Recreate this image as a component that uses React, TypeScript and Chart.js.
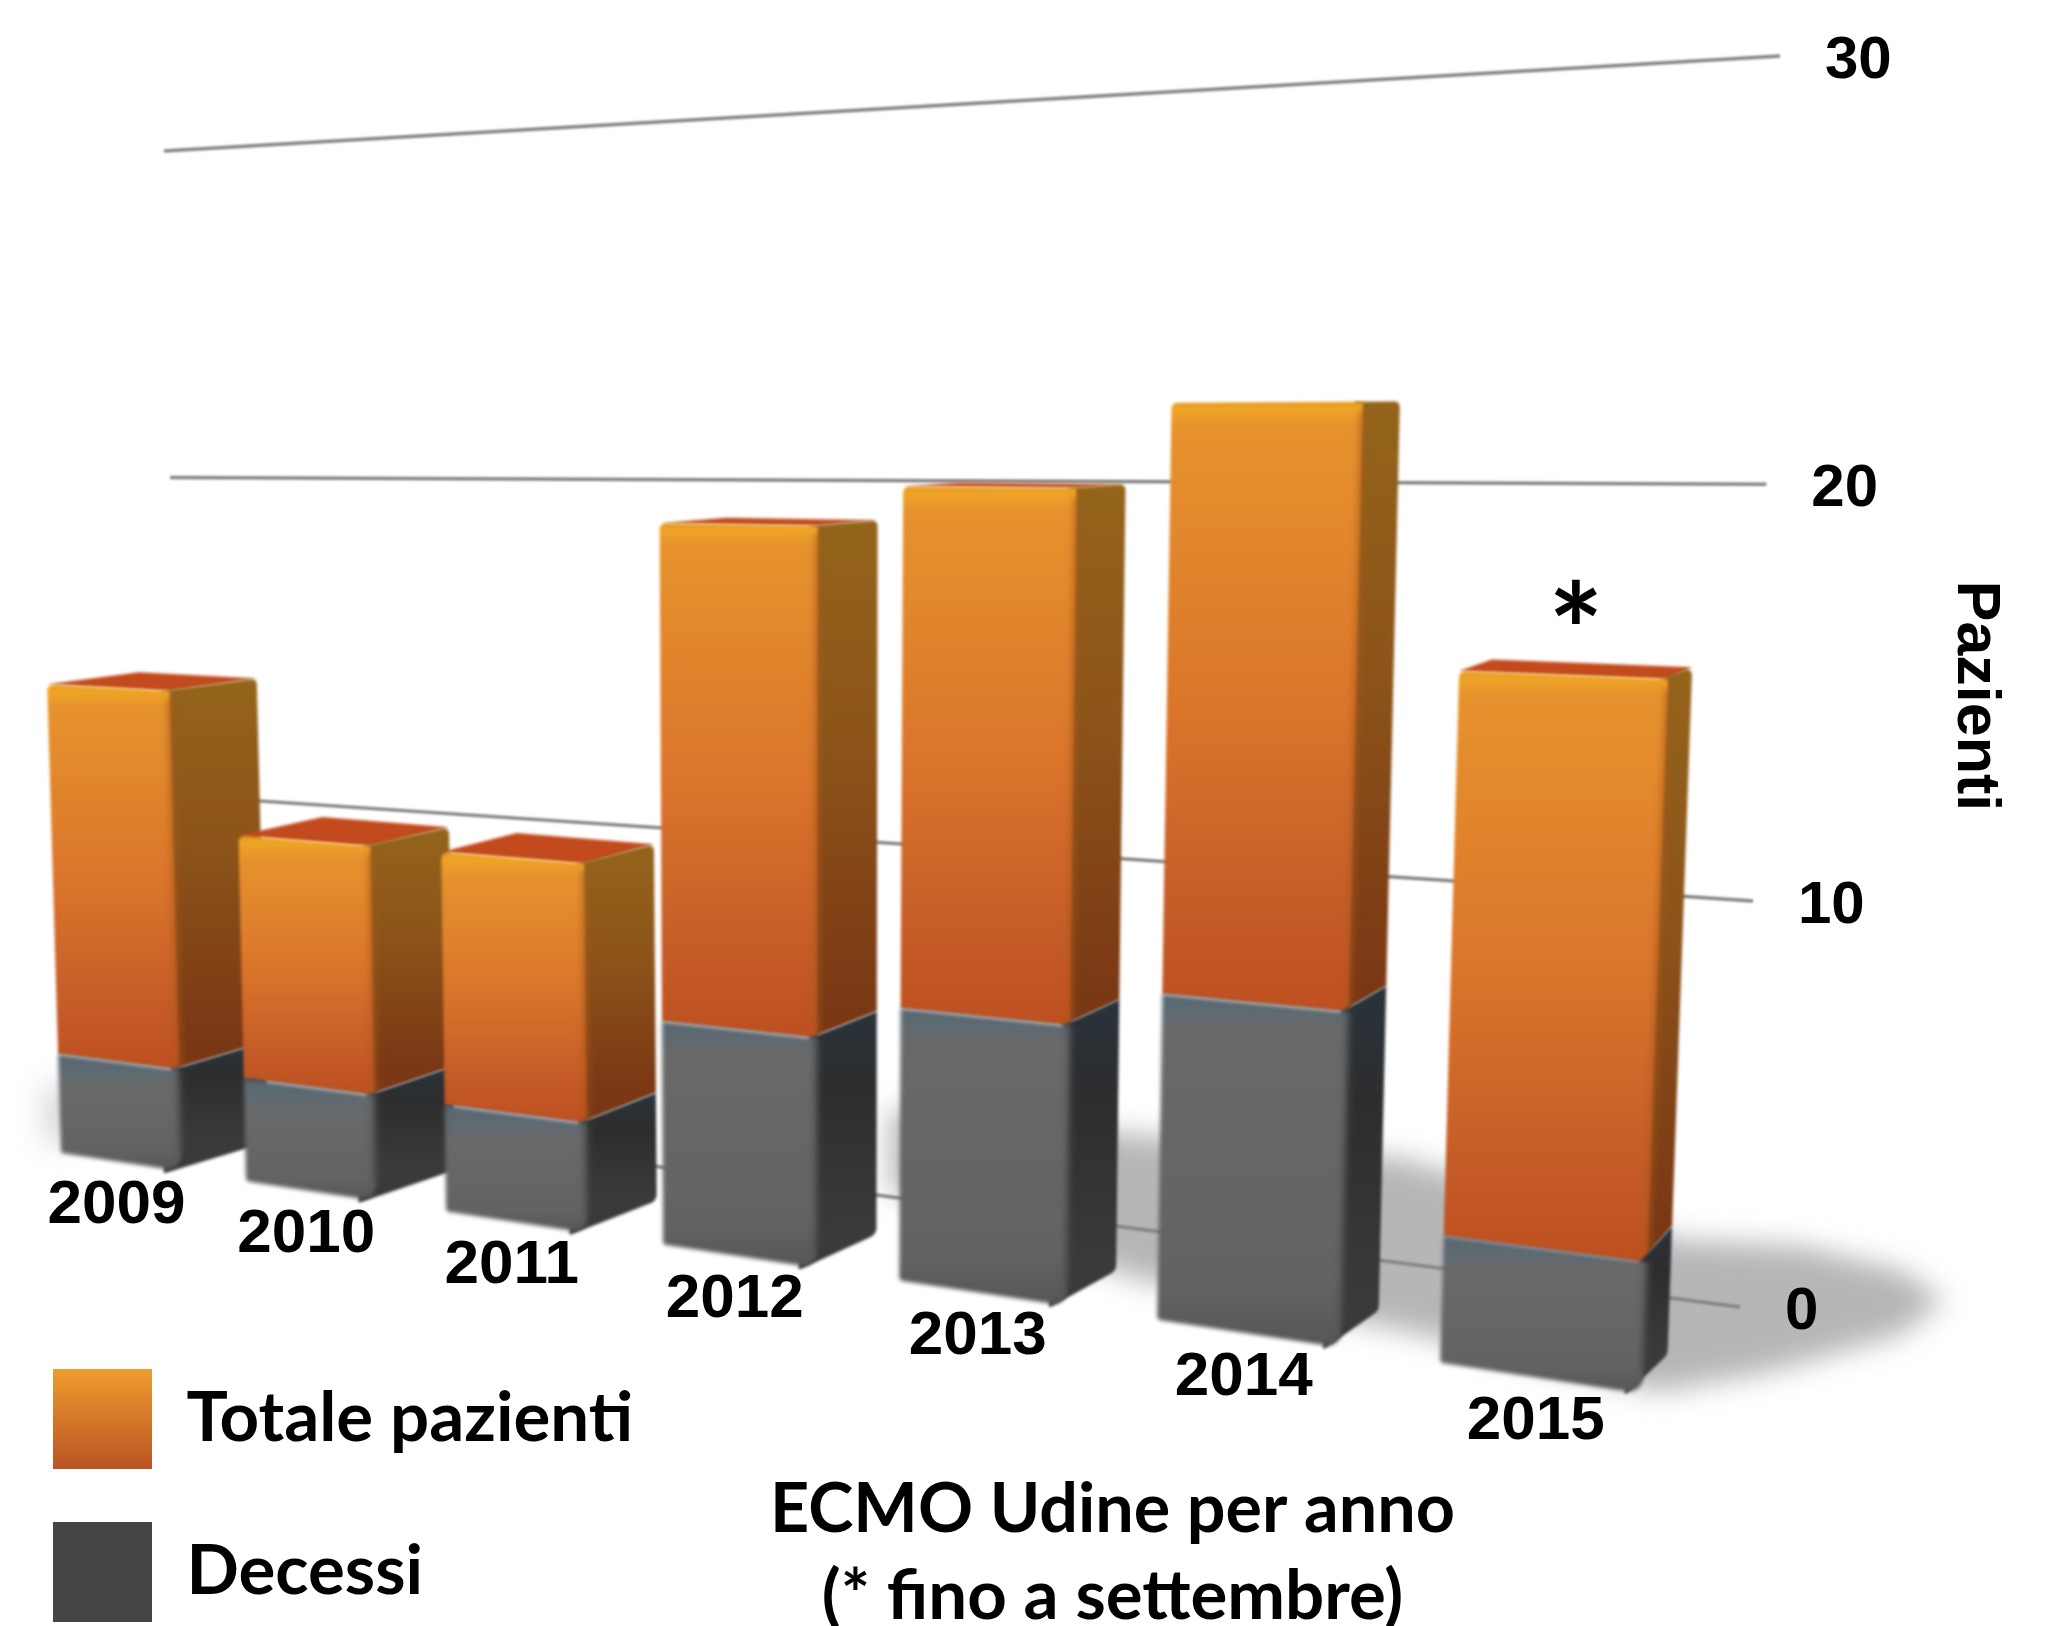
import React, { useEffect, useRef } from "react";
import { Chart, registerables } from "chart.js";

Chart.register(...registerables);

const years = ["2009", "2010", "2011", "2012", "2013", "2014", "2015"];
const totalePazienti = [14, 10, 10, 19, 20, 22, 16];
const decessi = [3, 3, 3, 6, 7, 8, 3];
const yTicks = { min: 0, max: 30, stepSize: 10 };
const seriesNames = ["Totale pazienti", "Decessi"];
const titleLines = ["ECMO Udine per anno", "(* fino a settembre)"];
const yTitle = "Pazienti";
const partialYearIndex = 6;

const W = 2055;
const H = 1626;
const BAND_SHIFT = 0.33;

// perspective camera of the front plane of the bars: (bar position, value) -> page
function front(u: number, v: number) {
  const w = 1 - 0.03754 * u - 0.00135 * v;
  return {
    x: (175.8 * u + 61 - 1.05 * v) / w,
    y: (-16.2 * u + 1153 - 34.4 * v) / w,
  };
}
// depth: each point recedes towards one vanishing point
function back(p: { x: number; y: number }) {
  const k = 0.042;
  return { x: p.x + (2240 - p.x) * k, y: p.y + (395 - p.y) * k };
}
// back wall that carries the grid lines: (t across wall, value) -> page
function wall(t: number, v: number) {
  const f = ((v / 30) * (1 - 0.0013 * 30)) / (1 - 0.0013 * v);
  const l = { x: 182 + (164 - 182) * f, y: 1105 + (151 - 1105) * f };
  const r = { x: 1740 + (1780 - 1740) * f, y: 1307 + (56 - 1307) * f };
  return { x: l.x + (r.x - l.x) * t, y: l.y + (r.y - l.y) * t };
}

type P = { x: number; y: number };

function roundedPath(ctx: CanvasRenderingContext2D, pts: P[], radii: number[]) {
  const n = pts.length;
  ctx.beginPath();
  const a = pts[n - 1];
  const b = pts[0];
  ctx.moveTo((a.x + b.x) / 2, (a.y + b.y) / 2);
  for (let i = 0; i < n; i++) {
    const p = pts[i];
    const q = pts[(i + 1) % n];
    ctx.arcTo(p.x, p.y, q.x, q.y, radii[i]);
  }
  ctx.closePath();
}

function polyPath(ctx: CanvasRenderingContext2D, pts: P[]) {
  ctx.beginPath();
  pts.forEach((p, i) => (i ? ctx.lineTo(p.x, p.y) : ctx.moveTo(p.x, p.y)));
  ctx.closePath();
}

function vGrad(ctx: CanvasRenderingContext2D, y0: number, y1: number, stops: [number, string][]) {
  const g = ctx.createLinearGradient(0, y0, 0, y1);
  stops.forEach(([s, c]) => g.addColorStop(Math.min(1, Math.max(0, s)), c));
  return g;
}

function softEdge(ctx: CanvasRenderingContext2D, a: P, b: P, color: string) {
  ctx.save();
  ctx.filter = "blur(3px)";
  ctx.strokeStyle = color;
  ctx.lineWidth = 7;
  ctx.beginPath();
  ctx.moveTo(a.x, a.y);
  ctx.lineTo(b.x, b.y);
  ctx.stroke();
  ctx.restore();
}

function drawBar(chart: any, i: number) {
  const ctx: CanvasRenderingContext2D = chart.ctx;
  const xs = chart.scales.x;
  const ys = chart.scales.y;
  const c0 = xs.getPixelForValue(0);
  const step = xs.getPixelForValue(1) - c0;
  const elT = chart.getDatasetMeta(0).data[i];
  const elD = chart.getDatasetMeta(1).data[i];
  const uL = (elT.x - elT.width / 2 - c0) / step + BAND_SHIFT;
  const uR = (elT.x + elT.width / 2 - c0) / step + BAND_SHIFT;
  const vTop = ys.getValueForPixel(elT.y);
  const vMid = ys.getValueForPixel(elD.y);
  const v0 = ys.getValueForPixel(elT.base);

  const fl = (v: number) => front(uL, v);
  const fr = (v: number) => front(uR, v);
  const br = (v: number) => back(fr(v));

  ctx.save();
  ctx.filter = "blur(1.4px)";

  // top face
  ctx.fillStyle = "#C24A1C";
  polyPath(ctx, [fl(vTop), back(fl(vTop)), br(vTop), fr(vTop)]);
  ctx.fill();

  // orange side
  const sTop = br(vTop).y;
  const sLow = br(vMid).y;
  ctx.fillStyle = vGrad(ctx, sTop, sLow, [
    [0, "#94641A"],
    [0.45, "#8C5419"],
    [1, "#7A3714"],
  ]);
  roundedPath(ctx, [{ x: fr(vTop).x - 8, y: fr(vTop).y }, br(vTop), br(vMid), { x: fr(vMid).x - 8, y: fr(vMid).y }], [1, 5, 1, 1]);
  ctx.fill();

  // orange front
  const yT = Math.min(fl(vTop).y, fr(vTop).y);
  const yB = Math.max(fl(vMid).y, fr(vMid).y);
  const h = yB - yT;
  ctx.fillStyle = vGrad(ctx, yT, yB, [
    [0, "#E29A24"],
    [7 / h, "#EFA425"],
    [24 / h, "#E6922D"],
    [0.5, "#DA752B"],
    [0.85, "#C45A27"],
    [1, "#BE4F20"],
  ]);
  roundedPath(ctx, [fl(vTop), fr(vTop), fr(vMid), fl(vMid)], [6, 3, 1, 1]);
  ctx.fill();
  softEdge(ctx, fr(vTop + -0.2), fr(vMid), "rgba(165,90,28,0.55)");

  // grey side
  const gTop = br(vMid).y;
  const gLow = br(v0).y;
  ctx.fillStyle = vGrad(ctx, gTop, gLow, [
    [0, "#29323A"],
    [0.35, "#2D2D2E"],
    [1, "#3A3A3A"],
  ]);
  const sideBottom = { x: fr(v0).x - 18, y: fr(v0).y + 2 };
  const backBottom = { x: br(v0).x, y: br(v0).y + 3 };
  roundedPath(ctx, [{ x: fr(vMid).x - 8, y: fr(vMid).y }, br(vMid), backBottom, sideBottom], [1, 1, 10, 1]);
  ctx.fill();

  // grey front
  const gT = Math.min(fl(vMid).y, fr(vMid).y);
  const gB = Math.max(fl(v0).y, fr(v0).y);
  const gh = gB - gT;
  ctx.filter = "blur(2px)";
  ctx.fillStyle = vGrad(ctx, gT, gB, [
    [0, "#586670"],
    [16 / gh, "#5E6A72"],
    [36 / gh, "#696969"],
    [0.82, "#636363"],
    [1, "#565656"],
  ]);
  roundedPath(ctx, [fl(vMid), fr(vMid), fr(v0), fl(v0)], [1, 1, 14, 4]);
  ctx.fill();
  softEdge(ctx, fr(vMid), fr(v0 + 0.5), "rgba(72,72,72,0.6)");
  ctx.restore();
}

function drawScene(chart: any) {
  const ctx: CanvasRenderingContext2D = chart.ctx;
  const ys = chart.scales.y;
  const xs = chart.scales.x;

  // floor shadow
  ctx.save();
  ctx.filter = "blur(14px)";
  ctx.fillStyle = "#B6B6B6";
  const shadow: P[] = [
    { x: 890, y: 1108 }, { x: 1140, y: 1135 }, { x: 1400, y: 1158 }, { x: 1680, y: 1240 },
    { x: 1800, y: 1246 }, { x: 1900, y: 1270 }, { x: 1945, y: 1300 }, { x: 1900, y: 1335 },
    { x: 1770, y: 1372 }, { x: 1660, y: 1392 }, { x: 1400, y: 1330 }, { x: 1140, y: 1280 }, { x: 890, y: 1190 },
  ];
  polyPath(ctx, shadow);
  ctx.fill();
  ctx.fillStyle = "#D6D6D6";
  ctx.fillRect(45, 1085, 30, 58);
  ctx.restore();

  // grid lines from the value axis
  ctx.save();
  ctx.filter = "blur(0.8px)";
  ctx.strokeStyle = "#858585";
  ctx.lineWidth = 3.5;
  ys.ticks.forEach((t: any) => {
    const a = wall(0, t.value);
    const b = wall(1, t.value);
    ctx.beginPath();
    ctx.moveTo(a.x, a.y);
    ctx.lineTo(b.x, b.y);
    ctx.stroke();
  });
  ctx.restore();

  years.forEach((_, i) => drawBar(chart, i));

  // axis text
  ctx.save();
  ctx.filter = "blur(0.6px)";
  ctx.fillStyle = "#000";
  ctx.font = 'bold 60px "Liberation Sans"';
  ctx.textBaseline = "middle";
  ctx.textAlign = "left";
  ys.ticks.forEach((t: any) => {
    const b = wall(1, t.value);
    ctx.fillText(String(t.value), b.x + 45, b.y + 5);
  });
  ctx.textAlign = "center";
  ctx.font = 'bold 62px "Liberation Sans"';
  const c0 = xs.getPixelForValue(0);
  const step = xs.getPixelForValue(1) - c0;
  years.forEach((_, i) => {
    const el = chart.getDatasetMeta(0).data[i];
    const u = (el.x - c0) / step + BAND_SHIFT;
    const p = front(u, ys.getValueForPixel(el.base));
    ctx.fillText(xs.getLabelForValue(i), p.x - 4, p.y + 44);
  });
  // value-axis title
  ctx.save();
  ctx.translate(1975, 696);
  ctx.rotate(Math.PI / 2);
  ctx.font = 'bold 61px "Liberation Sans"';
  ctx.fillText(yTitle, 0, 0);
  ctx.restore();
  ctx.restore();

  // asterisk above the partial year
  const el = chart.getDatasetMeta(0).data[partialYearIndex];
  const u = (el.x - c0) / step + BAND_SHIFT;
  const top = front(u, ys.getValueForPixel(el.y));
  ctx.save();
  ctx.fillStyle = "#000";
  ctx.textAlign = "center";
  ctx.textBaseline = "alphabetic";
  ctx.font = 'bold 130px "Lato"';
  ctx.fillText("*", top.x + 14, top.y + 4);
  ctx.restore();
}

const scenePlugin = {
  id: "scene",
  afterLayout(chart: any) {
    const legend = chart.legend;
    legend.left = 0;
    legend.top = 1316;
    legend.bottom = 2400; // keeps the legend from wrapping to a second column
    const title = chart.titleBlock;
    title.left = 770;
    title.right = 1455;
    title.top = 1467;
    title.bottom = 1626;
  },
  beforeDatasetsDraw(chart: any) {
    drawScene(chart);
    return false;
  },
};

export default function App() {
  const ref = useRef<HTMLCanvasElement | null>(null);
  useEffect(() => {
    const canvas = ref.current!;
    const ctx = canvas.getContext("2d")!;
    const orange = ctx.createLinearGradient(0, 1369, 0, 1469);
    orange.addColorStop(0, "#EE9C2E");
    orange.addColorStop(1, "#BA5325");
    const chart = new Chart(canvas, {
      type: "bar",
      data: {
        labels: years,
        datasets: [
          { label: seriesNames[0], data: totalePazienti, backgroundColor: "#DA752B", order: 1, grouped: false } as any,
          { label: seriesNames[1], data: decessi, backgroundColor: "#666666", order: 0, grouped: false } as any,
        ],
      },
      options: {
        responsive: false,
        animation: false,
        events: [],
        layout: { padding: 0 },
        categoryPercentage: 1,
        barPercentage: 0.66,
        scales: {
          x: { display: false, offset: true },
          y: { display: false, min: yTicks.min, max: yTicks.max, ticks: { stepSize: yTicks.stepSize } },
        },
        plugins: {
          tooltip: { enabled: false },
          legend: {
            display: true,
            position: "left",
            align: "start",
            labels: {
              boxWidth: 99,
              boxHeight: 100,
              padding: 53,
              color: "#000",
              font: { family: "Lato", weight: "bold", size: 69 },
              generateLabels: () => [
                { text: seriesNames[0], fillStyle: orange, strokeStyle: "transparent", lineWidth: 0, hidden: false, datasetIndex: 0 },
                { text: seriesNames[1], fillStyle: "#454545", strokeStyle: "transparent", lineWidth: 0, hidden: false, datasetIndex: 1 },
              ],
            },
          },
          title: {
            display: true,
            position: "bottom",
            text: titleLines,
            color: "#000",
            font: { family: "Lato", weight: "bold", size: 69, lineHeight: 1.25 },
            padding: 0,
          },
        },
      } as any,
      plugins: [scenePlugin],
    });
    return () => chart.destroy();
  }, []);
  return (
    <div style={{ position: "fixed", left: 0, top: 0, width: W, height: H, background: "#fff" }}>
      <canvas ref={ref} width={W} height={H} style={{ display: "block" }} />
    </div>
  );
}
